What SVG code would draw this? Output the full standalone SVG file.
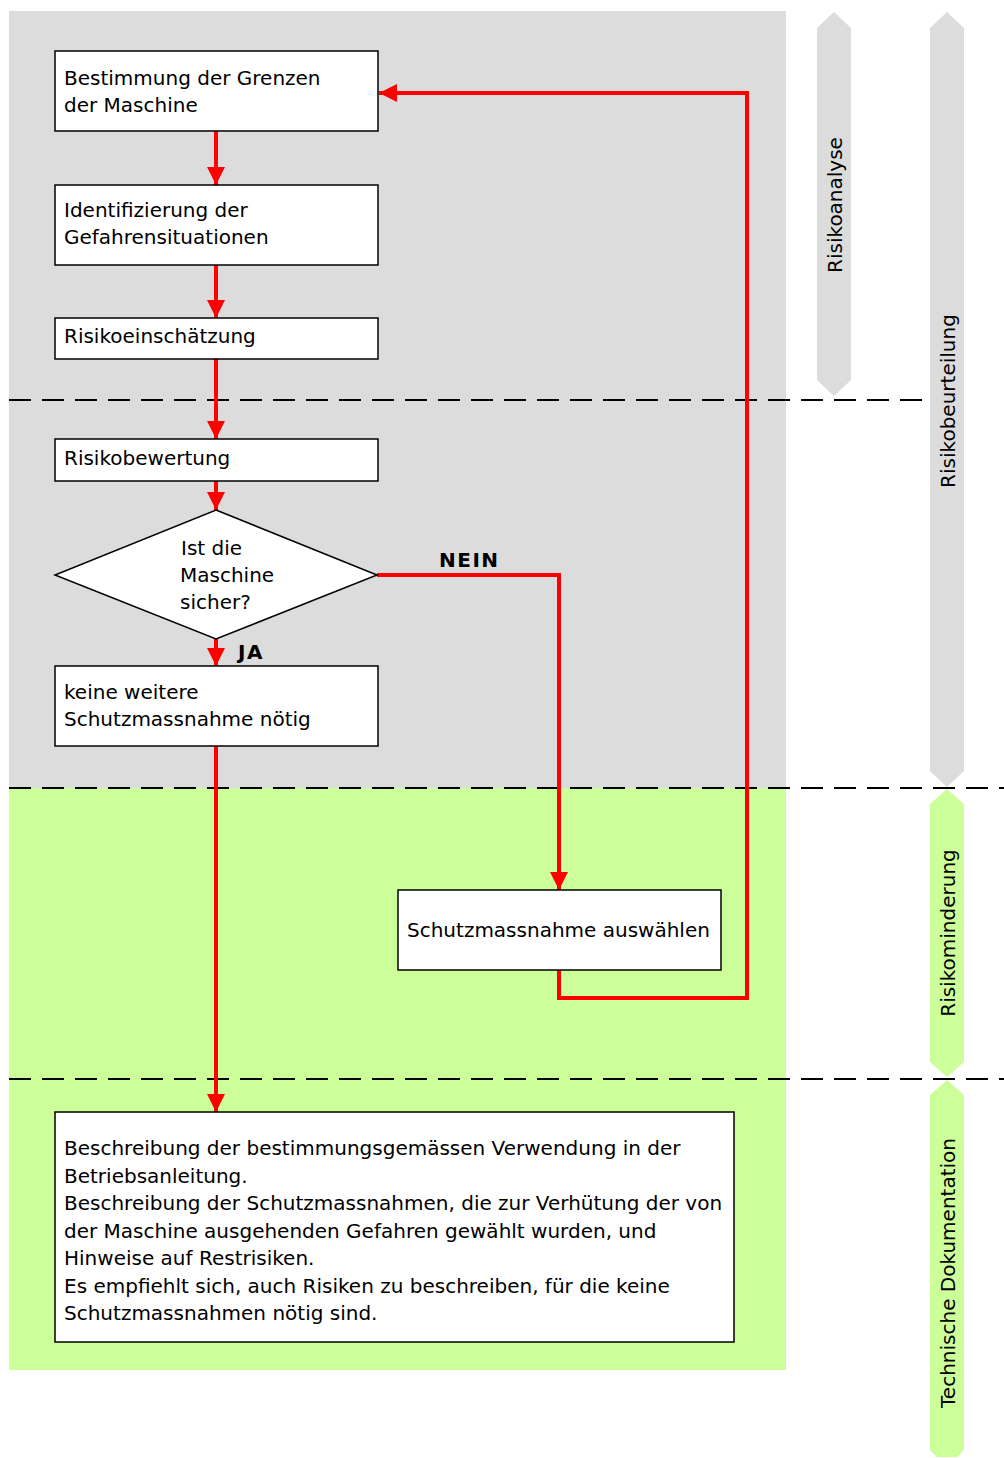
<svg xmlns="http://www.w3.org/2000/svg" width="1004" height="1458" viewBox="0 0 1004 1458">
<style>
.box{fill:#fff;stroke:#000;stroke-width:1.5}
.t{font-family:"DejaVu Sans",Verdana,sans-serif;font-size:20px;fill:#000}
.b{font-family:"DejaVu Sans",Verdana,sans-serif;font-size:20px;font-weight:bold;letter-spacing:1.5px;fill:#000}
.dash{stroke:#000;stroke-width:2.2;stroke-dasharray:22 11;fill:none}
.c{stroke:#f00;stroke-width:4;fill:none}
.ca{stroke:#f00;stroke-width:4;fill:none;marker-end:url(#ah)}
</style>
<defs>
<marker id="ah" markerUnits="userSpaceOnUse" markerWidth="18" markerHeight="18" viewBox="0 0 18 18" refX="18" refY="9" orient="auto">
<path d="M0,0 L18,9 L0,18 Z" fill="#f00"/>
</marker>
</defs>
<g id="background">
<rect x="9" y="11" width="777" height="777" fill="#dcdcdc"/>
<rect x="9" y="788" width="777" height="582" fill="#ccff99"/>
</g>
<g id="phase-bars">
<path d="M834,12 L851,28 L851,380 L834,396 L817,380 L817,28 Z" fill="#dcdcdc"/>
<path d="M947,12 L964,28 L964,771 L947,787 L930,771 L930,28 Z" fill="#dcdcdc"/>
<path d="M947,789 L964,804 L964,1062 L947,1077 L930,1062 L930,804 Z" fill="#ccff99"/>
<path d="M947,1080 L964,1095 L964,1450 L957,1457 L937,1457 L930,1450 L930,1095 Z" fill="#ccff99"/>
<text class="t" transform="translate(842,205) rotate(-90)" text-anchor="middle">Risikoanalyse</text>
<text class="t" transform="translate(955,401) rotate(-90)" text-anchor="middle">Risikobeurteilung</text>
<text class="t" transform="translate(955,933) rotate(-90)" text-anchor="middle">Risikominderung</text>
<text class="t" transform="translate(955,1273) rotate(-90)" text-anchor="middle">Technische Dokumentation</text>
</g>
<g id="dividers">
<line class="dash" x1="9" y1="400" x2="932" y2="400"/>
<line class="dash" x1="9" y1="788" x2="1004" y2="788"/>
<line class="dash" x1="9" y1="1079" x2="1004" y2="1079"/>
</g>
<g id="connectors">
<line class="ca" x1="216" y1="131" x2="216" y2="185"/>
<line class="ca" x1="216" y1="265" x2="216" y2="318"/>
<line class="ca" x1="216" y1="359" x2="216" y2="439"/>
<line class="ca" x1="216" y1="481" x2="216" y2="510"/>
<line class="ca" x1="216" y1="639" x2="216" y2="666"/>
<line class="ca" x1="216" y1="746" x2="216" y2="1112"/>
<polyline class="ca" points="377,575 559,575 559,890"/>
<polyline class="ca" points="559,970 559,998 747,998 747,93 379,93"/>
<text class="b" x="238" y="659">JA</text>
<text class="b" x="439" y="567">NEIN</text>
</g>
<g id="n1">
<rect class="box" x="55" y="51" width="323" height="80"/>
<text class="t" x="64" y="85">Bestimmung der Grenzen</text>
<text class="t" x="64" y="112">der Maschine</text>
</g>
<g id="n2">
<rect class="box" x="55" y="185" width="323" height="80"/>
<text class="t" x="64" y="217">Identifizierung der</text>
<text class="t" x="64" y="244">Gefahrensituationen</text>
</g>
<g id="n3">
<rect class="box" x="55" y="318" width="323" height="41"/>
<text class="t" x="64" y="343">Risikoeinschätzung</text>
</g>
<g id="n4">
<rect class="box" x="55" y="439" width="323" height="42"/>
<text class="t" x="64" y="465">Risikobewertung</text>
</g>
<g id="n5">
<polygon class="box" points="216,510 377,575 216,639 55,575"/>
<text class="t" x="181" y="555">Ist die</text>
<text class="t" x="180" y="582">Maschine</text>
<text class="t" x="180" y="609">sicher?</text>
</g>
<g id="n6">
<rect class="box" x="55" y="666" width="323" height="80"/>
<text class="t" x="64" y="699">keine weitere</text>
<text class="t" x="64" y="726">Schutzmassnahme nötig</text>
</g>
<g id="n7">
<rect class="box" x="398" y="890" width="323" height="80"/>
<text class="t" x="407" y="937">Schutzmassnahme auswählen</text>
</g>
<g id="n8">
<rect class="box" x="55" y="1112" width="679" height="230"/>
<text class="t" x="64" y="1155">Beschreibung der bestimmungsgemässen Verwendung in der</text>
<text class="t" x="64" y="1183">Betriebsanleitung.</text>
<text class="t" x="64" y="1210">Beschreibung der Schutzmassnahmen, die zur Verhütung der von</text>
<text class="t" x="64" y="1238">der Maschine ausgehenden Gefahren gewählt wurden, und</text>
<text class="t" x="64" y="1265">Hinweise auf Restrisiken.</text>
<text class="t" x="64" y="1293">Es empfiehlt sich, auch Risiken zu beschreiben, für die keine</text>
<text class="t" x="64" y="1320">Schutzmassnahmen nötig sind.</text>
</g>
</svg>
